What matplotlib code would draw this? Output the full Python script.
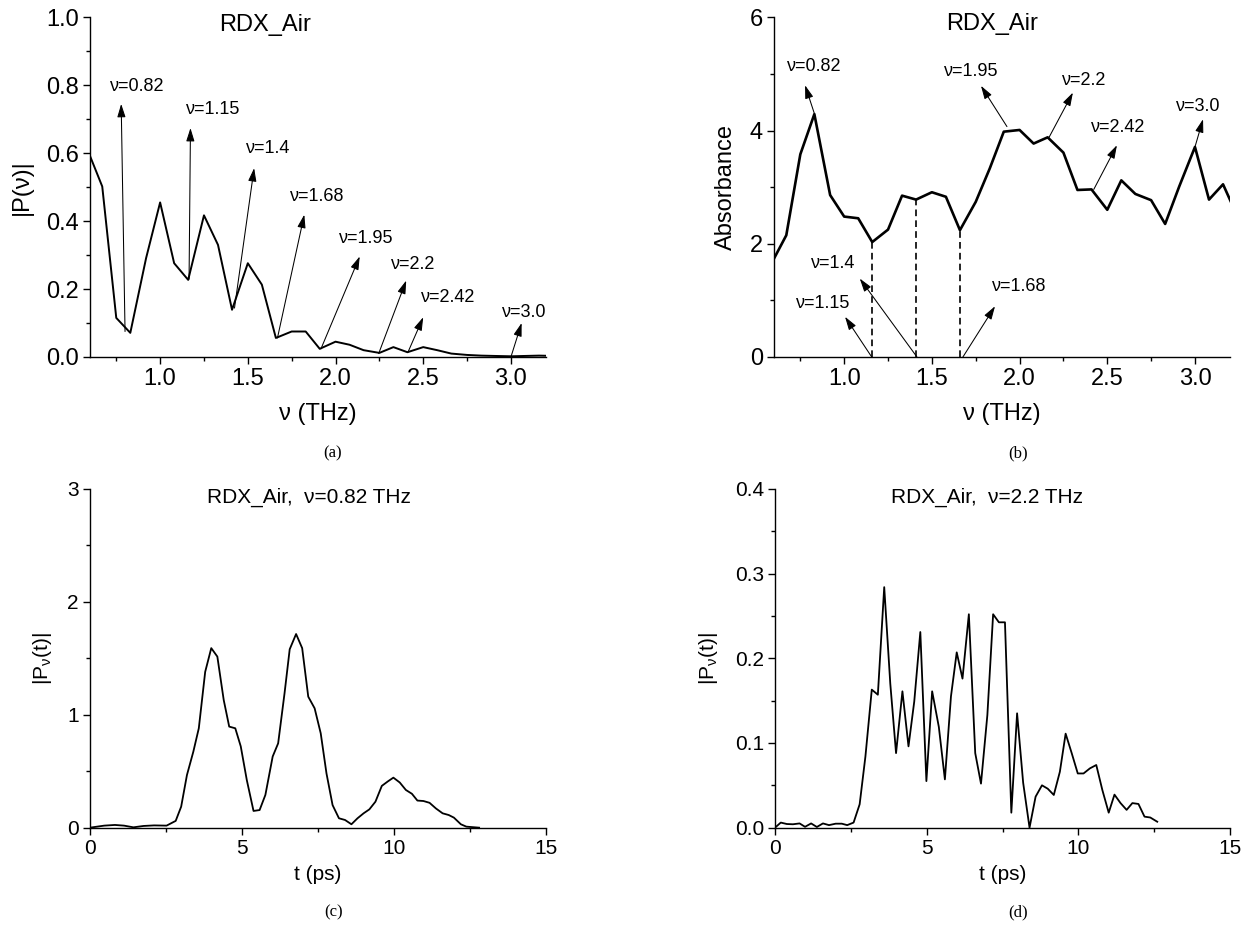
import matplotlib
matplotlib.use('Agg')
import matplotlib.pyplot as plt
from matplotlib.ticker import MultipleLocator, FormatStrFormatter

plt.rcParams['font.family'] = ['Liberation Sans', 'DejaVu Sans']
plt.rcParams['mathtext.fontset'] = 'custom'
plt.rcParams['mathtext.rm'] = 'Liberation Sans'
plt.rcParams['mathtext.it'] = 'Liberation Sans'

# frequency grid shared by (a) and (b), THz
nu = [0.59, 0.67, 0.75, 0.83, 0.92, 1.00, 1.08, 1.16, 1.25, 1.33, 1.41,
      1.50, 1.58, 1.66, 1.75, 1.83, 1.91, 2.00, 2.08, 2.16, 2.25, 2.33,
      2.41, 2.50, 2.58, 2.66, 2.75, 2.83, 2.91, 3.00, 3.08, 3.16, 3.25]
p_nu = [0.605, 0.502, 0.115, 0.071, 0.291, 0.455, 0.276, 0.227, 0.417, 0.330,
        0.139, 0.276, 0.213, 0.056, 0.075, 0.075, 0.024, 0.045, 0.036, 0.020,
        0.012, 0.029, 0.014, 0.029, 0.020, 0.010, 0.006, 0.004, 0.003, 0.002,
        0.003, 0.004, 0.003]
absorb = [1.68, 2.15, 3.58, 4.29, 2.86, 2.48, 2.45, 2.03, 2.25, 2.85, 2.78,
          2.91, 2.83, 2.24, 2.74, 3.33, 3.98, 4.01, 3.77, 3.88, 3.61, 2.95,
          2.96, 2.60, 3.12, 2.88, 2.77, 2.35, 3.01, 3.71, 2.78, 3.05, 2.43]
dashed_idx = [7, 10, 13]  # nu = 1.15, 1.4, 1.68

# (c) nu = 0.82 THz
t_c = [0, 0.47, 0.82, 1.12, 1.43, 1.76, 2.11, 2.52, 2.82, 3.0, 3.19, 3.40,
       3.58, 3.79, 3.99, 4.19, 4.40, 4.58, 4.78, 4.96, 5.16, 5.38, 5.58, 5.77,
       6.01, 6.19, 6.40, 6.57, 6.78, 6.98, 7.18, 7.39, 7.59, 7.78, 7.98, 8.19,
       8.39, 8.60, 8.80, 9.0, 9.19, 9.39, 9.60, 9.80, 9.98, 10.19, 10.39,
       10.59, 10.77, 10.97, 11.17, 11.38, 11.60, 11.80, 11.97, 12.20, 12.38,
       12.80]
p_c = [0, 0.018, 0.024, 0.018, 0.003, 0.015, 0.02, 0.018, 0.06, 0.186, 0.466,
       0.673, 0.88, 1.38, 1.59, 1.515, 1.13, 0.895, 0.88, 0.72, 0.42, 0.148,
       0.156, 0.29, 0.63, 0.747, 1.19, 1.58, 1.715, 1.59, 1.16, 1.057, 0.836,
       0.48, 0.20, 0.083, 0.068, 0.03, 0.083, 0.127, 0.162, 0.23, 0.37, 0.41,
       0.443, 0.40, 0.334, 0.30, 0.24, 0.236, 0.22, 0.17, 0.127, 0.112, 0.089,
       0.03, 0.009, 0.0]

# (d) nu = 2.2 THz
t_d = [0, 0.19, 0.39, 0.59, 0.81, 0.99, 1.19, 1.38, 1.58, 1.78, 2.0, 2.2,
       2.38, 2.59, 2.79, 2.98, 3.19, 3.39, 3.60, 3.80, 3.99, 4.20, 4.40, 4.59,
       4.79, 4.99, 5.18, 5.40, 5.60, 5.80, 5.99, 6.18, 6.39, 6.60, 6.79, 7.0,
       7.19, 7.38, 7.58, 7.79, 7.98, 8.18, 8.39, 8.59, 8.80, 8.99, 9.19, 9.39,
       9.58, 9.78, 9.98, 10.17, 10.38, 10.59, 10.79, 11.0, 11.19, 11.39, 11.59,
       11.78, 11.98, 12.18, 12.37, 12.60]
p_d = [0, 0.006, 0.0043, 0.004, 0.005, 0.001, 0.005, 0.0008, 0.005, 0.003,
       0.0047, 0.0047, 0.003, 0.006, 0.0276, 0.084, 0.163, 0.157, 0.284, 0.170,
       0.088, 0.161, 0.096, 0.149, 0.231, 0.055, 0.161, 0.119, 0.057, 0.155,
       0.207, 0.176, 0.252, 0.088, 0.052, 0.133, 0.252, 0.2425, 0.2425, 0.0177,
       0.135, 0.053, 0.0, 0.0366, 0.050, 0.046, 0.0386, 0.066, 0.111, 0.088,
       0.064, 0.064, 0.070, 0.074, 0.0445, 0.0177, 0.039, 0.029, 0.021, 0.029,
       0.028, 0.013, 0.012, 0.007]

# annotations: label, text position, arrow tail, arrow head
notes_a = [
    ('ν=0.82', (0.87, 0.796), (0.80, 0.075), (0.778, 0.745)),
    ('ν=1.15', (1.304, 0.729), (1.165, 0.229), (1.173, 0.674)),
    ('ν=1.4', (1.616, 0.613), (1.424, 0.144), (1.536, 0.556)),
    ('ν=1.68', (1.893, 0.473), (1.669, 0.056), (1.822, 0.419)),
    ('ν=1.95', (2.174, 0.35), (1.917, 0.024), (2.138, 0.296)),
    ('ν=2.2', (2.445, 0.272), (2.246, 0.010), (2.403, 0.225)),
    ('ν=2.42', (2.643, 0.175), (2.413, 0.014), (2.50, 0.117)),
    ('ν=3.0', (3.075, 0.131), (3.0, 0.0), (3.061, 0.10)),
]
notes_b = [
    ('ν=0.82', (0.827, 5.13), (0.829, 4.31), (0.777, 4.80)),
    ('ν=1.95', (1.723, 5.05), (1.928, 4.07), (1.78, 4.79)),
    ('ν=2.2', (2.366, 4.89), (2.168, 3.88), (2.304, 4.67)),
    ('ν=2.42', (2.562, 4.05), (2.423, 2.96), (2.555, 3.74)),
    ('ν=3.0', (3.02, 4.42), (3.0, 3.71), (3.046, 4.20)),
    ('ν=1.15', (0.879, 0.94), (1.157, 0), (1.005, 0.71)),
    ('ν=1.4', (0.936, 1.65), (1.415, 0), (1.089, 1.385)),
    ('ν=1.68', (1.997, 1.25), (1.677, 0), (1.86, 0.896)),
]


def style(ax, fs, xmaj, xmin, ymaj, ymin, yfmt, xfmt):
    for s in ['top', 'right']:
        ax.spines[s].set_visible(False)
    for s in ['left', 'bottom']:
        ax.spines[s].set_linewidth(1.0)
    ax.xaxis.set_major_locator(MultipleLocator(xmaj))
    ax.xaxis.set_minor_locator(MultipleLocator(xmin))
    ax.yaxis.set_major_locator(MultipleLocator(ymaj))
    ax.yaxis.set_minor_locator(MultipleLocator(ymin))
    ax.yaxis.set_major_formatter(FormatStrFormatter(yfmt))
    ax.xaxis.set_major_formatter(FormatStrFormatter(xfmt))
    ax.tick_params(which='major', direction='out', length=5, width=1.0,
                   labelsize=fs, pad=3)
    ax.tick_params(which='minor', direction='out', length=3, width=1.0)


def arrows(ax, notes, fs):
    for lab, txy, tail, head in notes:
        ax.annotate('', xy=head, xytext=tail, annotation_clip=False,
                    arrowprops=dict(arrowstyle='-|>,head_length=0.8,head_width=0.25',
                                    lw=0.75, color='k', shrinkA=0, shrinkB=0))
        ax.text(txy[0], txy[1], lab, fontsize=fs, ha='center', va='center')


fig = plt.figure(figsize=(12.46, 9.26), dpi=100)

# (a)
ax = fig.add_axes([0.0722, 0.6145, 0.366, 0.3668])
ax.plot(nu, p_nu, color='k', lw=1.4)
ax.set_xlim(0.6, 3.2)
ax.set_ylim(0, 1.0)
style(ax, 17, 0.5, 0.25, 0.2, 0.1, '%.1f', '%.1f')
arrows(ax, notes_a, 13)
ax.text(0.385, 0.977, 'RDX_Air', transform=ax.transAxes, fontsize=17,
        ha='center', va='center')
ax.set_xlabel('ν (THz)', fontsize=17)
ax.set_ylabel('|P(ν)|', fontsize=17)
ax.xaxis.set_label_coords(0.5, -0.135)
ax.yaxis.set_label_coords(-0.125, 0.5)

# (b)
ax = fig.add_axes([0.6212, 0.6145, 0.366, 0.3668])
ax.plot(nu, absorb, color='k', lw=1.9)
for i in dashed_idx:
    ax.plot([nu[i], nu[i]], [0, absorb[i]], color='k', lw=1.2, ls=(0, (4, 2.5)))
ax.set_xlim(0.6, 3.2)
ax.set_ylim(0, 6)
style(ax, 17, 0.5, 0.25, 2, 1, '%d', '%.1f')
arrows(ax, notes_b, 13)
ax.text(0.478, 0.98, 'RDX_Air', transform=ax.transAxes, fontsize=17,
        ha='center', va='center')
ax.set_xlabel('ν (THz)', fontsize=17)
ax.set_ylabel('Absorbance', fontsize=17)
ax.xaxis.set_label_coords(0.5, -0.135)
ax.yaxis.set_label_coords(-0.082, 0.5)

# (c)
ax = fig.add_axes([0.0722, 0.1062, 0.366, 0.3658])
ax.plot(t_c, p_c, color='k', lw=1.3)
ax.set_xlim(0, 15)
ax.set_ylim(0, 3)
style(ax, 15, 5, 2.5, 1, 0.5, '%d', '%d')
ax.text(0.48, 0.976, 'RDX_Air,  ν=0.82 THz', transform=ax.transAxes,
        fontsize=15, ha='center', va='center')
ax.set_xlabel('t (ps)', fontsize=15)
ax.set_ylabel(r'|P$_{\nu}$(t)|', fontsize=15)
ax.xaxis.set_label_coords(0.5, -0.11)
ax.yaxis.set_label_coords(-0.079, 0.5)

# (d)
ax = fig.add_axes([0.622, 0.1062, 0.3652, 0.3658])
ax.plot(t_d, p_d, color='k', lw=1.3)
ax.set_xlim(0, 15)
ax.set_ylim(0, 0.4)
style(ax, 15, 5, 2.5, 0.1, 0.05, '%.1f', '%d')
ax.text(0.466, 0.976, 'RDX_Air,  ν=2.2 THz', transform=ax.transAxes,
        fontsize=15, ha='center', va='center')
ax.set_xlabel('t (ps)', fontsize=15)
ax.set_ylabel(r'|P$_{\nu}$(t)|', fontsize=15)
ax.xaxis.set_label_coords(0.5, -0.11)
ax.yaxis.set_label_coords(-0.121, 0.5)

# sub-figure captions
for lab, x, y in [('(a)', 333, 453), ('(b)', 1018, 453),
                  ('(c)', 334, 912), ('(d)', 1018, 912)]:
    fig.text(x / 1246, 1 - y / 926, lab, fontsize=12, ha='center', va='center',
             family='Liberation Serif')

fig.savefig('out.png', dpi=100)
